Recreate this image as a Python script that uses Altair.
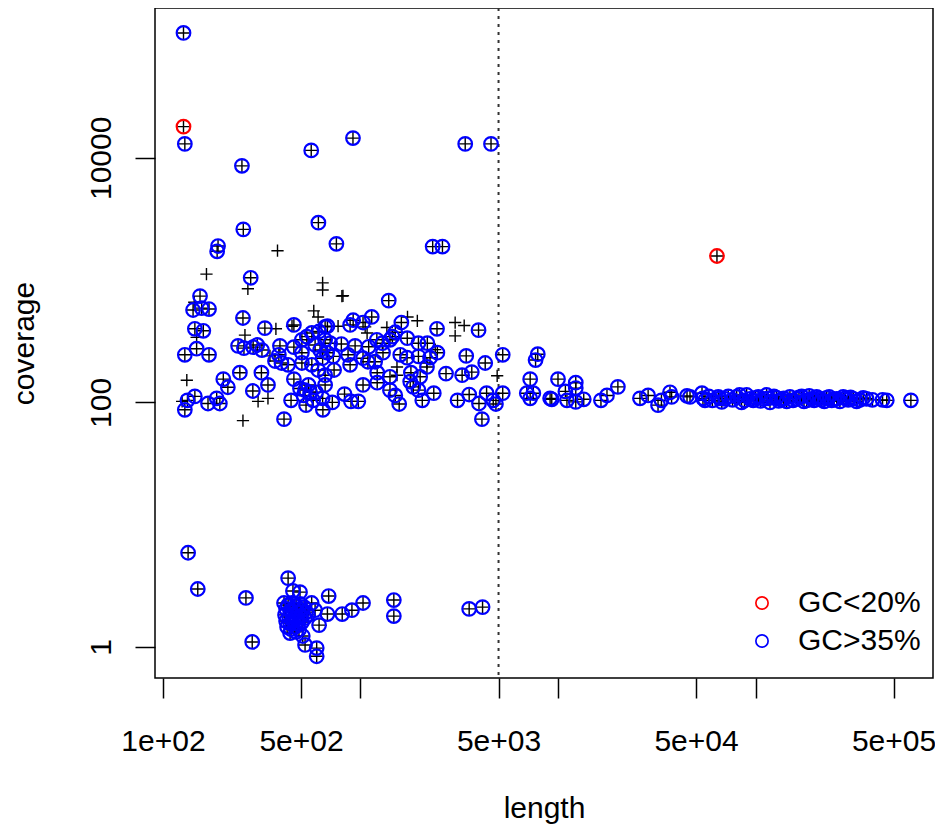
import altair as alt
import pandas as pd

# ---------------- data ----------------
# GC>35% contigs (blue circles), grouped by region of the plot
blue_top_len = [127, 129, 563, 251, 916, 3390, 4580, 612, 755, 255, 190, 188, 2320, 2600, 278, 154, 1390, 1140, 1610]
blue_top_cov = [105000, 13000, 11500, 8600, 14500, 13000, 13000, 2950, 1980, 2600, 1900, 1720, 1880, 1880, 1045, 740, 680, 500, 450]

blue_left_len = [157, 142, 171, 254, 328, 460, 145, 160, 129, 148, 171, 245, 202, 213, 315, 340, 285, 460, 445, 145,
                 133, 129, 169, 187, 194, 530, 645, 410]
blue_left_cov = [590, 570, 580, 490, 405, 430, 400, 385, 245, 275, 245, 175, 155, 133, 175, 139, 124, 155, 104, 112,
                 104, 87, 98, 108, 98, 95, 87, 73]

blue_mid_len = [240, 257, 286, 300, 317, 391, 386, 369, 398, 430, 460, 505, 535, 567, 617, 662, 505, 567, 505, 524,
                556, 494, 545, 515, 680, 886, 918, 1030, 1500, 2440, 3960]
blue_mid_cov = [290, 278, 283, 295, 268, 290, 245, 218, 210, 203, 283, 325, 345, 370, 380, 415, 255, 203, 210, 126,
                121, 130, 139, 114, 420, 430, 470, 450, 375, 400, 390]

blue_centre_len = [662, 702, 800, 939, 1100, 1210, 1290, 1410, 1450, 1725, 1965, 2180, 678, 728, 865, 1030, 1090, 1186, 1300, 1590,
                   1720, 1965, 2250, 2450, 2170, 886, 735, 662, 1215, 1410, 1800, 2005, 1030, 1215, 1410, 1500, 1785, 1850, 1965, 2710,
                   3270, 3660, 3430, 4280, 5250]
blue_centre_cov = [325, 305, 300, 290, 285, 325, 305, 325, 345, 335, 305, 305, 255, 238, 245, 230, 215, 215, 255, 245,
                   232, 238, 232, 255, 195, 203, 184, 167, 175, 162, 175, 162, 139, 145, 126, 114, 148, 134, 126, 172,
                   167, 177, 240, 210, 245]

blue_base_len = [830, 895, 975, 720, 1570, 2055, 2350, 3100, 3550, 3980, 4350, 4700, 4850, 5250, 4120,
                 589, 624, 643, 610, 662, 596, 643, 576]
blue_base_cov = [117, 102, 102, 100, 97, 104, 119, 104, 116, 98, 119, 104, 97, 119, 73,
                 295, 268, 230, 184, 139, 121, 108, 104]

blue_right_len = [7900, 7700, 7230, 6950, 7500, 7230, 9120, 9300, 10000, 10900, 12300, 12300, 11100, 12300, 13500,
                  16500, 17700, 20100, 26000, 28600, 32100, 33400, 36900, 37600, 45000, 46600, 53600, 54200, 60500, 66100]
blue_right_cov = [248, 222, 155, 119, 119, 108, 108, 106, 155, 123, 145, 131, 104, 101, 106,
                  104, 114, 134, 108, 114, 95, 104, 121, 111, 113, 111, 119, 108, 104, 108]

blue_far_len = [55500, 64800, 70100, 72800, 80300, 85000, 90200, 93800, 97400, 103300, 109400, 113800, 118400, 127900,
                135600, 143900, 149400, 161600, 171300, 181700, 192400, 204000, 216300, 229400, 243200, 257800, 267500,
                278000, 294700, 312400, 337700, 351000, 391000, 440000, 462000, 612000,
                58000, 67500, 76500, 83000, 88000, 100000, 106000, 116000, 124000, 131000, 139000, 155000, 166000,
                176000, 187000, 198000, 210000, 223000, 236000, 250000, 285000, 303000, 325000, 365000]
blue_far_cov = [104, 111, 107, 112, 111, 100, 115, 107, 104, 111, 107, 115, 100, 109,
                105, 102, 111, 107, 112, 104, 107, 111, 105, 109, 104, 107, 102,
                111, 105, 107, 105, 109, 105, 105, 104, 104,
                112, 101, 105, 115, 104, 109, 103, 108, 112, 103, 108, 104, 110,
                102, 113, 104, 108, 102, 111, 106, 108, 110, 102, 107]

blue_low_len = [134, 150, 263, 283, 430, 455, 494, 566, 589, 690, 680, 617, 510, 524, 600, 600, 808, 905, 1030, 1475,
                1475, 3550, 4150]
blue_low_cov = [5.9, 2.98, 2.52, 1.10, 3.66, 2.87, 2.81, 2.29, 2.0, 2.61, 1.86, 1.51, 1.23, 1.04, 0.98, 0.84, 1.86, 2.0, 2.29, 2.42,
                1.79, 2.05, 2.12]

blue_clump_len = [410, 430, 450, 472, 494, 518, 420, 440, 461, 483, 506, 530, 415, 435, 456, 477, 500, 524, 542, 420,
                  440, 461, 483, 506, 425, 445, 466, 488, 440, 472]
blue_clump_cov = [2.29, 2.20, 2.29, 2.16, 2.25, 2.12, 2.05, 1.97, 2.05, 1.93, 2.0, 1.93, 1.83, 1.76, 1.83, 1.73, 1.79, 1.73, 1.83, 1.63,
                  1.57, 1.63, 1.54, 1.60, 1.46, 1.40, 1.46, 1.38, 1.30, 1.33]

# GC<20% contigs (red circles)
red_len = [127, 63800]
red_cov = [18000, 1575]

# other contigs (plus only)
plain_len = [380, 166, 269, 643, 643, 805, 815, 1730, 1940, 144, 373, 450, 580, 610, 148, 260, 132, 303, 340, 125,
             254, 348, 770, 1056, 1080, 1360, 3015, 3015, 3350, 1530, 1530, 2170, 2390, 4920]
plain_cov = [1740, 1120, 850, 950, 830, 740, 745, 500, 465, 660, 400, 420, 560, 500, 340, 355, 152, 102, 108, 102,
             71, 240, 420, 415, 370, 410, 450, 350, 425, 195, 167, 210, 270, 165]

x_tick_values = [100, 500, 1000, 5000, 10000, 50000, 100000, 500000]
x_tick_labels = ["1e+02", "5e+02", "", "5e+03", "", "5e+04", "", "5e+05"]
y_tick_values = [1, 100, 10000]
y_tick_labels = ["1", "100", "10000"]
cutoff_length = [5000]
legend_domain = ["GC<20%", "GC>35%"]
legend_colors = ["#FF0000", "#0000FF"]

# ---------------- build table ----------------
blue_len = (blue_top_len + blue_left_len + blue_mid_len + blue_centre_len + blue_base_len
            + blue_right_len + blue_far_len + blue_low_len + blue_clump_len)
blue_cov = (blue_top_cov + blue_left_cov + blue_mid_cov + blue_centre_cov + blue_base_cov
            + blue_right_cov + blue_far_cov + blue_low_cov + blue_clump_cov)

df = pd.DataFrame({
    "length": blue_len + red_len + plain_len,
    "coverage": blue_cov + red_cov + plain_cov,
    "gc": ["GC>35%"] * len(blue_len) + ["GC<20%"] * len(red_len) + ["other"] * len(plain_len),
})
cut_df = pd.DataFrame({"length": cutoff_length})


def label_expr(values, labels):
    parts = [f"abs(datum.value - {v}) < {v} * 1e-6 ? '{l}'" for v, l in zip(values, labels)]
    return " : ".join(parts) + " : ''"


FONT = "Liberation Sans"

x_axis = alt.Axis(
    values=x_tick_values, labelExpr=label_expr(x_tick_values, x_tick_labels),
    grid=False, domain=False, tickSize=20, tickWidth=1.5, tickColor="black",
    labelFont=FONT, labelFontSize=30, labelColor="black", labelPadding=52,
    labelBaseline="alphabetic", labelFlush=False, labelOverlap=False, labelBound=False,
    title="length", titleFont=FONT, titleFontSize=30, titleFontWeight="normal", titleColor="black",
    titleX=389, titleY=139, titleAlign="center", titleBaseline="alphabetic",
)
y_axis = alt.Axis(
    values=y_tick_values, labelExpr=label_expr(y_tick_values, y_tick_labels),
    grid=False, domain=False, tickSize=20, tickWidth=1.5, tickColor="black",
    labelFont=FONT, labelFontSize=30, labelColor="black", labelPadding=25,
    labelAngle=270, labelAlign="center", labelBaseline="alphabetic",
    labelFlush=False, labelOverlap=False, labelBound=False,
    title="coverage", titleFont=FONT, titleFontSize=30, titleFontWeight="normal", titleColor="black",
    titleX=-122, titleY=335, titleAngle=270, titleAlign="center", titleBaseline="alphabetic",
)

x_scale = alt.Scale(type="log", domain=[91.1, 792000], nice=False)
y_scale = alt.Scale(type="log", domain=[0.558, 167900], nice=False)

x_enc = alt.X("length:Q", scale=x_scale, axis=x_axis)
y_enc = alt.Y("coverage:Q", scale=y_scale, axis=y_axis)

vline = alt.Chart(cut_df).mark_rule(color="#333333", strokeWidth=2, strokeDash=[3, 5]).encode(x=x_enc)

plus = alt.Chart(df).mark_point(
    shape="M-1,0L1,0M0,-1L0,1", size=150, filled=False, stroke="black", strokeWidth=1.4, opacity=1
).encode(x=x_enc, y=y_enc)

circles = alt.Chart(df).transform_filter("datum.gc != 'other'").mark_point(
    shape="circle", size=185, filled=False, strokeWidth=2.2, opacity=1
).encode(
    x=x_enc, y=y_enc,
    color=alt.Color("gc:N", scale=alt.Scale(domain=legend_domain, range=legend_colors),
                    legend=alt.Legend(title=None, orient="none", legendX=592, legendY=580,
                                      labelFont=FONT, labelFontSize=30, labelColor="black",
                                      labelLimit=300,
                                      symbolType="circle", symbolSize=150, symbolStrokeWidth=1.7,
                                      labelOffset=21, rowPadding=8, padding=0)),
)

chart = alt.layer(vline, plus, circles).properties(
    width=778, height=670,
    autosize=alt.AutoSizeParams(type="none"),
    padding={"left": 147, "top": 0, "right": 2, "bottom": 148},
).configure_view(stroke="black", strokeWidth=1.5)

chart.save("out.html", embed_options={"renderer": "svg", "actions": False})
